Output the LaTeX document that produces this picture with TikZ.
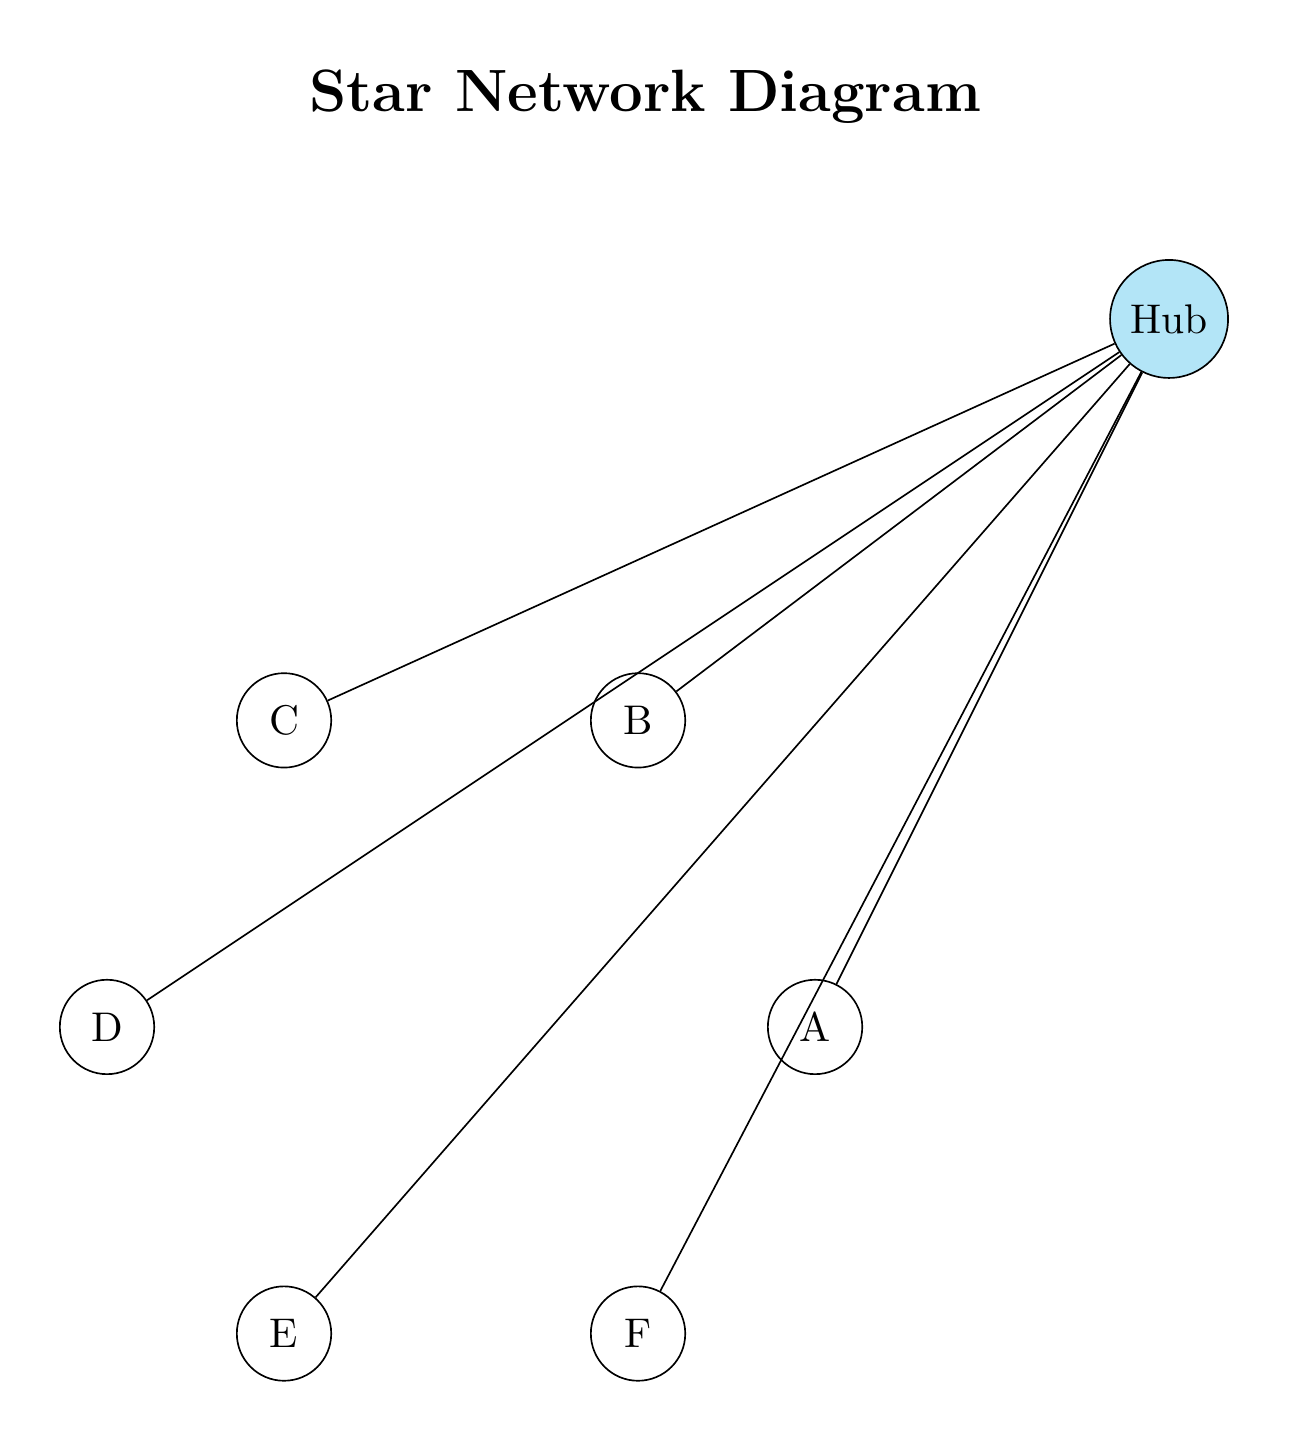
\documentclass[tikz,border=0pt]{standalone}
\usepackage{tikz}

\definecolor{hubblue}{RGB}{179,229,247}

\begin{document}
\begin{tikzpicture}[
    leaf/.style={draw, circle, minimum size=0.8cm, inner sep=0pt},
    hub/.style={draw, circle, fill=hubblue, minimum size=1cm, inner sep=0pt}
]
    % Fix the page size
    \useasboundingbox (-3.907,-3.517) rectangle (7.025,8.703);

    % Define the ring radius
    \def\r{3}

    % Title
    \node[font=\Large\bfseries] (title) at (1.56,7.88) {Star Network Diagram};

    % Central hub
    \node[hub] (Hub) at (6,6) {Hub};

    % Outer nodes on a hexagon
    \node[leaf] (A) at (0:\r) {A};
    \node[leaf] (B) at (60:\r) {B};
    \node[leaf] (C) at (120:\r) {C};
    \node[leaf] (D) at (180:\r) {D};
    \node[leaf] (E) at (240:\r) {E};
    \node[leaf] (F) at (300:\r) {F};

    % Links from the hub
    \draw (Hub) -- (A);
    \draw (Hub) -- (B);
    \draw (Hub) -- (C);
    \draw (Hub) -- (D);
    \draw (Hub) -- (E);
    \draw (Hub) -- (F);
\end{tikzpicture}
\end{document}
